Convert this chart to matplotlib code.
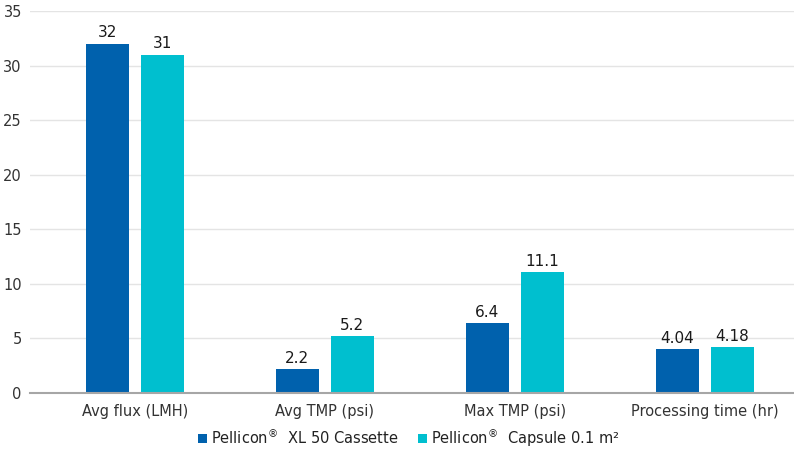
import numpy as np
import matplotlib
matplotlib.use("Agg")
import matplotlib.pyplot as plt

categories = ["Avg flux (LMH)", "Avg TMP (psi)", "Max TMP (psi)", "Processing time (hr)"]
xl50 = [32, 2.2, 6.4, 4.04]
capsule = [31, 5.2, 11.1, 4.18]
xl50_labels = ["32", "2.2", "6.4", "4.04"]
capsule_labels = ["31", "5.2", "11.1", "4.18"]

dark = "#0061ad"
cyan = "#00bfcf"

plt.rcParams["font.family"] = ["DejaVu Sans"]

fig = plt.figure(figsize=(7.94, 4.5), dpi=100)
ax = fig.add_axes([0.038, 0.1267, 0.962, 0.849])

x = np.arange(len(categories))
w = 0.226
off = 0.145
b1 = ax.bar(x - off, xl50, w, color=dark, label=r"Pellicon$^{\mathrm{®}}$  XL 50 Cassette", zorder=3)
b2 = ax.bar(x + off, capsule, w, color=cyan, label=r"Pellicon$^{\mathrm{®}}$  Capsule 0.1 m²", zorder=3)

# value labels sit just above each bar
for bars, labels in ((b1, xl50_labels), (b2, capsule_labels)):
    for rect, lab in zip(bars, labels):
        ax.text(rect.get_x() + rect.get_width() / 2, rect.get_height() + 0.3, lab,
                ha="center", va="bottom", fontsize=11, color="#1a1a1a")

ax.set_ylim(0, 35)
ax.set_xlim(-0.55, 3.47)
ax.set_yticks(range(0, 36, 5))
ax.set_xticks(x)
ax.set_xticklabels(categories)
ax.tick_params(axis="both", length=0, labelsize=10.5, colors="#333333")
ax.tick_params(axis="x", pad=8)
ax.tick_params(axis="y", pad=6)
ax.yaxis.grid(True, color="#e4e4e4", linewidth=1, zorder=0)
for s in ("top", "right", "left"):
    ax.spines[s].set_visible(False)
ax.spines["bottom"].set_color("#a6a6a6")
ax.spines["bottom"].set_linewidth(1.5)
ax.spines["bottom"].set_zorder(4)

leg = fig.legend(loc="center", bbox_to_anchor=(0.515, 0.028), ncol=2, frameon=False,
                 fontsize=10.5, handlelength=0.6, handleheight=0.6, handletextpad=0.3,
                 columnspacing=1.3, labelcolor="#222222")

fig.savefig("out.png", dpi=100)
